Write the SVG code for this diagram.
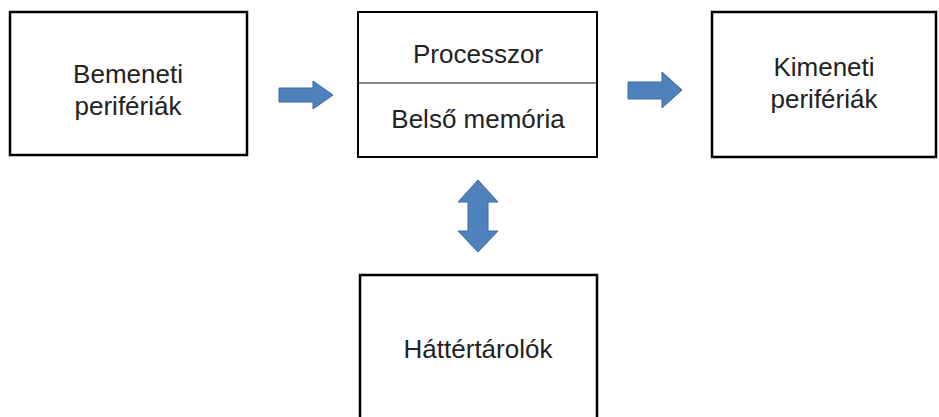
<svg xmlns="http://www.w3.org/2000/svg" width="939" height="417" viewBox="0 0 939 417">
<style>
.box{fill:#fff;stroke:#000;stroke-width:2.5}
.lbl{font-family:"Liberation Sans",Arial,sans-serif;font-size:26px;fill:#222;text-anchor:middle}
.arr{fill:#4F81BD;stroke:#3C6A9E;stroke-width:1}
</style>
<rect width="939" height="417" fill="#fff"/>
<g id="bemeneti">
<rect class="box" x="10" y="12" width="237" height="143"/>
<text class="lbl" x="128" y="83">Bemeneti</text>
<text class="lbl" x="128" y="115">perifériák</text>
</g>
<g id="kozpont">
<rect class="box" x="358" y="12" width="239" height="145" style="stroke-width:2"/>
<line x1="358" y1="83" x2="597" y2="83" stroke="#111" stroke-width="1.2"/>
<text class="lbl" x="478" y="63">Processzor</text>
<text class="lbl" x="478" y="128">Belső memória</text>
</g>
<g id="kimeneti">
<rect class="box" x="712" y="12" width="224" height="145"/>
<text class="lbl" x="824" y="76">Kimeneti</text>
<text class="lbl" x="824" y="108">perifériák</text>
</g>
<g id="hatter">
<rect class="box" x="360" y="275" width="237" height="160"/>
<text class="lbl" x="478" y="358">Háttértárolók</text>
</g>
<g id="connectors">
<path class="arr" d="M279,88 H313 V81 L333,95 L313,109 V102 H279 Z"/>
<path class="arr" d="M628,82 H662 V72 L682,90 L662,108 V99 H628 Z"/>
<path class="arr" d="M478,180 L498,202 H488 V231 H498 L478,252 L458,231 H468 V202 H458 Z"/>
</g>
</svg>
